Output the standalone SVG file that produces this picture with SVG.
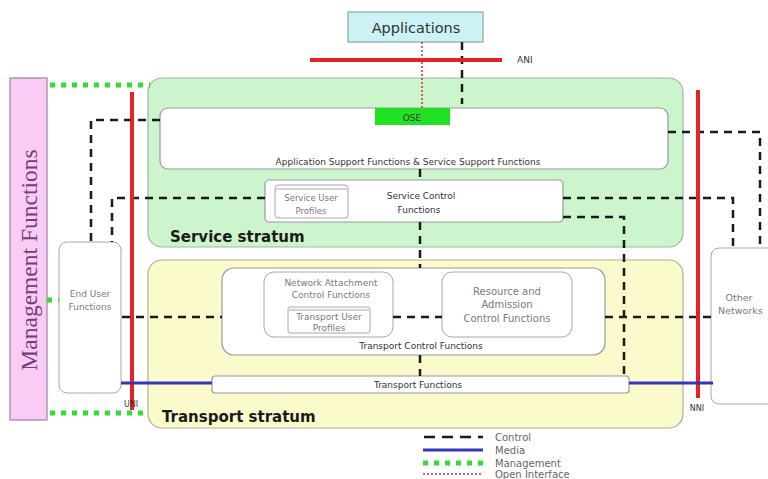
<svg xmlns="http://www.w3.org/2000/svg" width="768" height="479" viewBox="0 0 768 479">
<style>
text{font-family:"DejaVu Sans","Liberation Sans",sans-serif;}
.box{fill:#fff;stroke:#9a9a9a;stroke-width:1.2}
.gbox{fill:#fff;stroke:#a8a8a8;stroke-width:1}
.ctl{fill:none;stroke:#1a1a1a;stroke-width:2.5;stroke-dasharray:8 6}
.mgmt{fill:none;stroke:#33dd33;stroke-width:5;stroke-dasharray:5 6}
.media{fill:none;stroke:#3535bb;stroke-width:3}
.ifc{fill:none;stroke:#e62222;stroke-width:4}
.oi{fill:none;stroke:#e03030;stroke-width:1.5;stroke-dasharray:2 2}
.lbl{font-size:9px;fill:#333;text-anchor:middle}
.glbl{font-size:9px;fill:#7a7a7a;text-anchor:middle}
.strat{font-size:15px;font-weight:bold;fill:#1a1a1a}
.leg{font-size:10px;fill:#666}
</style>

<g id="management">
<rect x="10" y="78" width="37" height="342" fill="#f8ccf5" stroke="#a080a0" stroke-width="1.2"/>
<text transform="translate(37,260) rotate(-90)" style="font-family:'Liberation Serif','DejaVu Serif',serif;font-size:23.5px;fill:#7a3a7a;text-anchor:middle">Management Functions</text>
</g>

<g id="service-stratum">
<rect x="148" y="78" width="535" height="169" rx="14" fill="#cdf5cd" stroke="#a0b8a0" stroke-width="1.2"/>
<text class="strat" x="170" y="242">Service stratum</text>
</g>

<g id="transport-stratum">
<rect x="148" y="260" width="535" height="168" rx="14" fill="#fafacc" stroke="#b0b090" stroke-width="1.2"/>
<text class="strat" x="162" y="422">Transport stratum</text>
</g>

<g id="applications">
<rect x="348" y="12" width="135" height="30" fill="#ccf2f5" stroke="#88a8aa" stroke-width="1.2"/>
<text x="416" y="33" style="font-size:14.5px;fill:#333;text-anchor:middle">Applications</text>
</g>

<g id="app-support">
<rect class="box" x="160" y="108" width="508" height="61" rx="8"/>
<text class="lbl" x="408" y="165">Application Support Functions &amp; Service Support Functions</text>
</g>

<g id="ose">
<rect x="375" y="108" width="75" height="17" fill="#22e022"/>
<text class="lbl" x="412" y="121">OSE</text>
</g>

<g id="service-control">
<rect class="box" x="265" y="180" width="298" height="42" rx="4"/>
<text class="lbl" x="421" y="199">Service Control</text>
<text class="lbl" x="419" y="213">Functions</text>
</g>

<g id="service-user-profiles">
<rect class="gbox" x="275" y="185" width="73" height="33" rx="3"/>
<line x1="276" y1="189" x2="347" y2="189" stroke="#a8a8a8"/>
<text class="glbl" x="311" y="201" style="font-size:8.5px">Service User</text>
<text class="glbl" x="311" y="214" style="font-size:8.5px">Profiles</text>
</g>

<g id="transport-control">
<rect class="box" x="222" y="268" width="383" height="87" rx="12"/>
<text class="lbl" x="421" y="349">Transport Control Functions</text>
</g>

<g id="nacf">
<rect class="gbox" x="264" y="272" width="129" height="65" rx="10"/>
<text class="glbl" x="331" y="286">Network Attachment</text>
<text class="glbl" x="331" y="298">Control Functions</text>
</g>

<g id="transport-user-profiles">
<rect class="gbox" x="288" y="307" width="82" height="26" rx="2"/>
<line x1="289" y1="310" x2="369" y2="310" stroke="#a8a8a8"/>
<text class="glbl" x="329" y="320">Transport User</text>
<text class="glbl" x="329" y="331">Profiles</text>
</g>

<g id="racf">
<rect class="gbox" x="442" y="272" width="130" height="65" rx="10"/>
<text class="glbl" x="507" y="295" style="font-size:10px">Resource and</text>
<text class="glbl" x="507" y="308" style="font-size:10px">Admission</text>
<text class="glbl" x="507" y="322" style="font-size:10px">Control Functions</text>
</g>

<g id="transport-functions">
<rect class="box" x="212" y="376" width="417" height="17" rx="3"/>
<text class="lbl" x="418" y="388">Transport Functions</text>
</g>

<g id="end-user">
<rect class="gbox" x="59" y="242" width="62" height="151" rx="8"/>
<text class="glbl" x="90" y="297">End User</text>
<text class="glbl" x="90" y="310">Functions</text>
</g>

<g id="other-networks">
<rect class="gbox" x="711" y="248" width="70" height="156" rx="8"/>
<text class="glbl" x="739" y="301" style="font-size:9.5px">Other</text>
<text class="glbl" x="718" y="314" style="font-size:9.5px;text-anchor:start">Networks</text>
</g>

<g id="connectors">
<path class="ctl" d="M462 42 V104"/>
<path class="ctl" d="M160 120 H91 V242"/>
<path class="ctl" d="M265 198 H112 V242"/>
<path class="ctl" d="M420 169 V180"/>
<path class="ctl" d="M420 222 V268"/>
<path class="ctl" d="M420 355 V376"/>
<path class="ctl" d="M563 198 H733 V248"/>
<path class="ctl" d="M563 217 H624 V376"/>
<path class="ctl" d="M668 132 H760 V248"/>
<path class="ctl" d="M122 317 H222"/>
<path class="ctl" d="M393 317 H442"/>
<path class="ctl" d="M605 317 H711"/>
<path class="mgmt" d="M50 85 H150"/>
<path class="mgmt" d="M50 413 H148"/>
<path class="mgmt" d="M47 300 H59"/>
<path class="oi" d="M422 42 V108"/>
<path class="ifc" d="M310 60 H502"/>
<path class="ifc" d="M132 92 V410"/>
<path class="ifc" d="M698 90 V398"/>
<path class="media" d="M121 383 H212"/>
<path class="media" d="M629 383 H713"/>
</g>

<g id="reference-points">
<text x="517" y="63" style="font-size:9px;fill:#333">ANI</text>
<text x="131" y="407" style="font-size:8px;fill:#333;text-anchor:middle">UNI</text>
<text x="697" y="411" style="font-size:8px;fill:#333;text-anchor:middle">NNI</text>
</g>

<g id="legend">
<path class="ctl" d="M424 437 H483" style="stroke-dasharray:11 7"/>
<path class="media" d="M423 450 H483"/>
<path class="mgmt" d="M423 463 H483"/>
<path class="oi" d="M423 474 H483"/>
<text class="leg" x="495" y="441">Control</text>
<text class="leg" x="495" y="454">Media</text>
<text class="leg" x="495" y="467">Management</text>
<text class="leg" x="495" y="478">Open Interface</text>
</g>
</svg>
